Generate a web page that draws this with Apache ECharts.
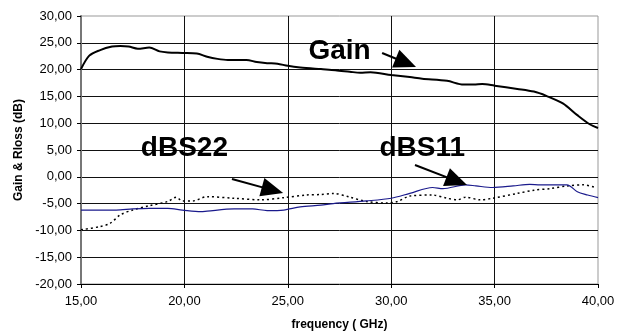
<!DOCTYPE html>
<html>
<head>
<meta charset="utf-8">
<script src="https://cdn.jsdelivr.net/npm/echarts@6/dist/echarts.min.js"></script>
<style>
  html, body { margin: 0; padding: 0; background: #fff; }
  #chart { width: 625px; height: 336px; }
</style>
</head>
<body>
<div id="chart"></div>
<script>
// frequency (GHz) and values (dB)
const gainFreq = [15.0, 15.4, 15.9, 16.5, 16.9, 17.3, 17.75, 18.3, 18.8, 19.2, 19.9, 20.6, 21.1, 21.6, 22.1, 23.0, 23.5, 24.0, 24.5, 25.0, 25.6, 26.6, 27.3, 28.0, 28.5, 29.0, 30.0, 30.9, 31.5, 32.7, 33.5, 34.0, 34.4, 35.0, 36.1, 36.9, 37.5, 38.3, 39.0, 39.6, 40.0];
const gainDb = [20.1, 22.6, 23.6, 24.3, 24.4, 24.3, 23.9, 24.1, 23.4, 23.2, 23.1, 23.0, 22.4, 22.0, 21.8, 21.8, 21.4, 21.2, 21.1, 20.7, 20.4, 20.1, 19.9, 19.6, 19.4, 19.5, 19.0, 18.6, 18.3, 17.9, 17.2, 17.2, 17.3, 17.0, 16.4, 15.9, 15.1, 13.7, 11.5, 9.8, 9.1];

const s11Freq = [15.0, 16.7, 17.5, 18.3, 19.2, 19.9, 20.8, 21.1, 22.4, 23.3, 24.0, 24.8, 25.6, 26.6, 27.2, 28.8, 30.0, 30.9, 32.0, 32.5, 33.6, 34.1, 34.9, 35.9, 36.7, 37.2, 38.5, 39.0, 39.5, 40.0];
const s11Db = [-6.2, -6.2, -6.0, -5.9, -5.9, -6.2, -6.5, -6.4, -6.0, -6.0, -6.3, -6.2, -5.6, -5.3, -5.0, -4.5, -4.0, -3.1, -2.0, -2.2, -1.5, -1.7, -2.0, -1.7, -1.4, -1.5, -1.5, -2.8, -3.4, -3.9];

const s22Freq = [15.0, 15.9, 16.4, 16.9, 17.5, 18.3, 19.2, 19.6, 19.9, 20.4, 21.1, 22.4, 23.7, 24.8, 25.9, 26.6, 27.2, 28.0, 28.8, 29.8, 30.3, 30.9, 32.0, 32.7, 33.2, 33.6, 34.3, 34.9, 36.1, 36.9, 37.7, 38.5, 39.3, 39.8];
const s22Db = [-9.9, -9.3, -8.7, -7.1, -6.2, -5.4, -4.6, -3.8, -4.5, -4.5, -3.7, -4.0, -4.3, -3.9, -3.4, -3.3, -3.1, -3.8, -4.6, -4.9, -4.6, -3.6, -3.4, -4.0, -4.3, -3.8, -4.3, -4.0, -3.1, -2.5, -2.2, -1.7, -1.5, -1.9];

// annotation texts and arrows (start, arrowhead centre), in data coordinates
const labelNames = ['Gain', 'dBS22', 'dBS11'];
const labelPos = [[27.5, 23.5], [20.0, 5.4], [31.5, 5.4]];
const arrows = [
  [[29.56, 23.1], [30.71, 21.27]],
  [[22.3, -0.4], [24.26, -2.48]],
  [[31.15, 2.2], [33.17, -0.8]]
];

const zip = (xs, ys) => xs.map((x, i) => [x, ys[i]]);
const fmt = v => v.toFixed(2).replace('.', ',').replace('-0,00', '0,00');
const font = 'Liberation Sans, Arial, sans-serif';

const arrowLine = a => ({
  silent: true,
  symbol: ['none', 'triangle'],
  symbolSize: [19, 22],
  label: { show: false },
  itemStyle: { color: '#000' },
  lineStyle: { color: '#000', width: 2, type: 'solid' },
  data: [[{ coord: a[0] }, { coord: a[1] }]]
});

const labelPoints = idx => ({
  silent: true,
  symbol: 'rect',
  symbolSize: 1,
  itemStyle: { color: 'transparent' },
  label: {
    show: true, position: 'inside', formatter: '{b}',
    color: '#000', fontSize: 28, fontWeight: 'bold', fontFamily: font
  },
  data: idx.map(i => ({ name: labelNames[i], coord: labelPos[i] }))
});

const chart = echarts.init(document.getElementById('chart'));
chart.setOption({
  animation: false,
  grid: {
    left: 81, right: 27, top: 16, bottom: 52,
    show: true, borderColor: '#999', borderWidth: 1, backgroundColor: 'transparent'
  },
  xAxis: {
    type: 'value', min: 15, max: 40, interval: 5,
    name: 'frequency ( GHz)', nameLocation: 'middle', nameGap: 35,
    nameTextStyle: { fontSize: 12, fontWeight: 'bold', color: '#000', fontFamily: font },
    axisLine: { onZero: false, lineStyle: { color: '#000', width: 1 } },
    axisTick: { show: true, length: 4, lineStyle: { color: '#000' } },
    axisLabel: { margin: 11, fontSize: 13, color: '#000', fontFamily: font, formatter: fmt },
    splitLine: { show: true, showMinLine: false, showMaxLine: false, lineStyle: { color: '#111', width: 1 } }
  },
  yAxis: {
    type: 'value', min: -20, max: 30, interval: 5,
    name: 'Gain & Rloss (dB)', nameLocation: 'middle', nameGap: 55, nameRotate: 90,
    nameTextStyle: { fontSize: 12, fontWeight: 'bold', color: '#000', fontFamily: font },
    axisLine: { show: true, onZero: false, lineStyle: { color: '#777', width: 2 } },
    axisTick: { show: true, length: 4, lineStyle: { color: '#000' } },
    axisLabel: { margin: 9, fontSize: 13, color: '#000', fontFamily: font, formatter: fmt },
    splitLine: { show: true, showMinLine: false, showMaxLine: false, lineStyle: { color: '#111', width: 1 } }
  },
  series: [
    {
      name: 'Gain', type: 'line', data: zip(gainFreq, gainDb),
      showSymbol: false, smooth: 0.3,
      lineStyle: { color: '#000', width: 2 },
      markLine: arrowLine(arrows[0]),
      markPoint: labelPoints([0, 1, 2])
    },
    {
      name: 'dBS22', type: 'line', data: zip(s22Freq, s22Db),
      showSymbol: false, smooth: 0.3,
      lineStyle: { color: '#000', width: 1.5, type: [2, 3] },
      markLine: arrowLine(arrows[1])
    },
    {
      name: 'dBS11', type: 'line', data: zip(s11Freq, s11Db),
      showSymbol: false, smooth: 0.3,
      lineStyle: { color: '#1a1a8c', width: 1.2 },
      markLine: arrowLine(arrows[2])
    }
  ]
});
</script>
</body>
</html>
